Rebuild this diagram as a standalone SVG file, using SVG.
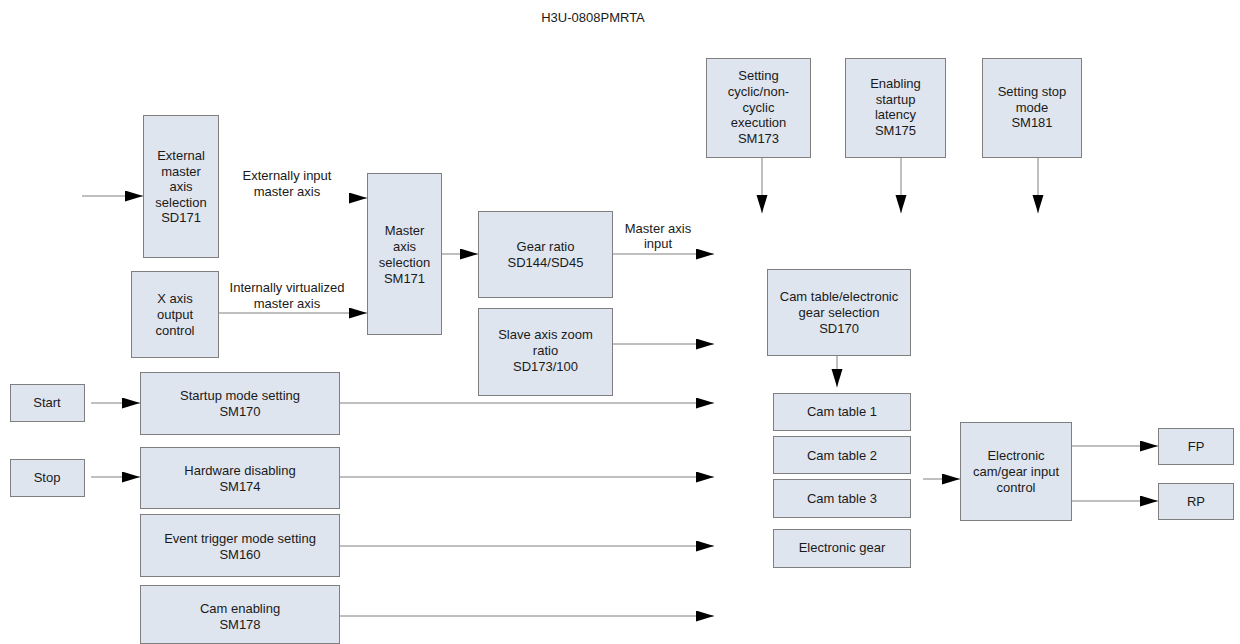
<svg xmlns="http://www.w3.org/2000/svg" width="1240" height="644" viewBox="0 0 1240 644">
  <style>
    .box { fill: #dfe5ef; stroke: #7f7f7f; stroke-width: 1; }
    .t { font-family: "Liberation Sans", Arial, sans-serif; font-size: 13px; fill: #1a1a1a; text-anchor: middle; }
    .ln { stroke: #808080; stroke-width: 1; fill: none; marker-end: url(#ah); }
  </style>
  <defs>
    <marker id="ah" markerUnits="userSpaceOnUse" markerWidth="18" markerHeight="12" refX="18" refY="5.5" orient="auto">
      <path d="M0,0 L18,5.5 L0,11 Z" fill="#000"/>
    </marker>
  </defs>
  <rect width="1240" height="644" fill="#fff"/>

  <text class="t" x="593" y="22">H3U-0808PMRTA</text>

  <!-- connectors -->
  <g id="connectors">
    <line class="ln" x1="82" y1="196" x2="143" y2="196"/>
    <line class="ln" x1="349" y1="198" x2="367" y2="198"/>
    <line class="ln" x1="218" y1="313" x2="367" y2="313"/>
    <line class="ln" x1="442" y1="254" x2="478" y2="254"/>
    <line class="ln" x1="613" y1="254" x2="714" y2="254"/>
    <line class="ln" x1="613" y1="344" x2="714" y2="344"/>
    <line class="ln" x1="91" y1="403" x2="140" y2="403"/>
    <line class="ln" x1="339" y1="403" x2="714" y2="403"/>
    <line class="ln" x1="91" y1="477" x2="140" y2="477"/>
    <line class="ln" x1="339" y1="477" x2="714" y2="477"/>
    <line class="ln" x1="339" y1="546" x2="714" y2="546"/>
    <line class="ln" x1="339" y1="616" x2="714" y2="616"/>
    <line class="ln" x1="762" y1="157" x2="762" y2="213"/>
    <line class="ln" x1="901" y1="157" x2="901" y2="213"/>
    <line class="ln" x1="1038" y1="157" x2="1038" y2="213"/>
    <line class="ln" x1="837" y1="356" x2="837" y2="387"/>
    <line class="ln" x1="923" y1="479" x2="960" y2="479"/>
    <line class="ln" x1="1072" y1="446" x2="1158" y2="446"/>
    <line class="ln" x1="1072" y1="501" x2="1158" y2="501"/>
  </g>

  <g id="external-master">
    <rect class="box" x="143.5" y="115.5" width="75" height="142"/>
    <text class="t" x="181" y="159.5">External</text>
    <text class="t" x="181" y="175.5">master</text>
    <text class="t" x="181" y="191">axis</text>
    <text class="t" x="181" y="206.5">selection</text>
    <text class="t" x="181" y="222">SD171</text>
  </g>

  <g id="x-axis">
    <rect class="box" x="131.5" y="271.5" width="87" height="86"/>
    <text class="t" x="175" y="302.5">X axis</text>
    <text class="t" x="175" y="318.5">output</text>
    <text class="t" x="175" y="334.5">control</text>
  </g>

  <g id="lbl-external">
    <text class="t" x="287" y="179.5">Externally input</text>
    <text class="t" x="287" y="195.5">master axis</text>
  </g>
  <g id="lbl-internal">
    <text class="t" x="287" y="291.5">Internally virtualized</text>
    <text class="t" x="287" y="307.5">master axis</text>
  </g>

  <g id="master-select">
    <rect class="box" x="367.5" y="173.5" width="74" height="161"/>
    <text class="t" x="404.5" y="235">Master</text>
    <text class="t" x="404.5" y="251">axis</text>
    <text class="t" x="404.5" y="267">selection</text>
    <text class="t" x="404.5" y="283">SM171</text>
  </g>

  <g id="gear-ratio">
    <rect class="box" x="478.5" y="211.5" width="134" height="86"/>
    <text class="t" x="545.5" y="250.5">Gear ratio</text>
    <text class="t" x="545.5" y="266.5">SD144/SD45</text>
  </g>

  <g id="lbl-master-input">
    <text class="t" x="658" y="232.5">Master axis</text>
    <text class="t" x="658" y="247.5">input</text>
  </g>

  <g id="slave-zoom">
    <rect class="box" x="478.5" y="308.5" width="134" height="87"/>
    <text class="t" x="545.5" y="338.5">Slave axis zoom</text>
    <text class="t" x="545.5" y="354.5">ratio</text>
    <text class="t" x="545.5" y="370.5">SD173/100</text>
  </g>

  <g id="cyclic">
    <rect class="box" x="706.5" y="58.5" width="104" height="99"/>
    <text class="t" x="758.5" y="80">Setting</text>
    <text class="t" x="758.5" y="95.5">cyclic/non-</text>
    <text class="t" x="758.5" y="111.5">cyclic</text>
    <text class="t" x="758.5" y="127">execution</text>
    <text class="t" x="758.5" y="143">SM173</text>
  </g>

  <g id="latency">
    <rect class="box" x="845.5" y="58.5" width="100" height="99"/>
    <text class="t" x="895.5" y="88">Enabling</text>
    <text class="t" x="895.5" y="103.5">startup</text>
    <text class="t" x="895.5" y="119">latency</text>
    <text class="t" x="895.5" y="134.5">SM175</text>
  </g>

  <g id="stop-mode">
    <rect class="box" x="982.5" y="58.5" width="99" height="99"/>
    <text class="t" x="1032" y="96">Setting stop</text>
    <text class="t" x="1032" y="111.5">mode</text>
    <text class="t" x="1032" y="127">SM181</text>
  </g>

  <g id="cam-select">
    <rect class="box" x="767.5" y="269.5" width="143" height="86"/>
    <text class="t" x="839" y="301">Cam table/electronic</text>
    <text class="t" x="839" y="317">gear selection</text>
    <text class="t" x="839" y="332.5">SD170</text>
  </g>

  <g id="cam1">
    <rect class="box" x="773.5" y="393.5" width="137" height="37"/>
    <text class="t" x="842" y="416">Cam table 1</text>
  </g>
  <g id="cam2">
    <rect class="box" x="773.5" y="436.5" width="137" height="37"/>
    <text class="t" x="842" y="459.5">Cam table 2</text>
  </g>
  <g id="cam3">
    <rect class="box" x="773.5" y="479.5" width="137" height="38"/>
    <text class="t" x="842" y="502.5">Cam table 3</text>
  </g>
  <g id="egear">
    <rect class="box" x="773.5" y="529.5" width="137" height="38"/>
    <text class="t" x="842" y="552">Electronic gear</text>
  </g>

  <g id="ecam-control">
    <rect class="box" x="960.5" y="422.5" width="111" height="98"/>
    <text class="t" x="1016" y="459.5">Electronic</text>
    <text class="t" x="1016" y="475.5">cam/gear input</text>
    <text class="t" x="1016" y="491.5">control</text>
  </g>

  <g id="fp">
    <rect class="box" x="1158.5" y="428.5" width="75" height="36"/>
    <text class="t" x="1196" y="451">FP</text>
  </g>
  <g id="rp">
    <rect class="box" x="1158.5" y="483.5" width="75" height="36"/>
    <text class="t" x="1196" y="506">RP</text>
  </g>

  <g id="start">
    <rect class="box" x="10.5" y="384.5" width="74" height="37"/>
    <text class="t" x="47" y="407">Start</text>
  </g>
  <g id="stop">
    <rect class="box" x="10.5" y="459.5" width="74" height="37"/>
    <text class="t" x="47" y="482">Stop</text>
  </g>

  <g id="startup-mode">
    <rect class="box" x="140.5" y="372.5" width="199" height="62"/>
    <text class="t" x="240" y="399.5">Startup mode setting</text>
    <text class="t" x="240" y="416">SM170</text>
  </g>
  <g id="hw-disable">
    <rect class="box" x="140.5" y="447.5" width="199" height="61"/>
    <text class="t" x="240" y="474.5">Hardware disabling</text>
    <text class="t" x="240" y="490.5">SM174</text>
  </g>
  <g id="event-trigger">
    <rect class="box" x="140.5" y="514.5" width="199" height="62"/>
    <text class="t" x="240" y="543">Event trigger mode setting</text>
    <text class="t" x="240" y="558.5">SM160</text>
  </g>
  <g id="cam-enable">
    <rect class="box" x="140.5" y="585.5" width="199" height="58"/>
    <text class="t" x="240" y="613">Cam enabling</text>
    <text class="t" x="240" y="628.5">SM178</text>
  </g>
</svg>
